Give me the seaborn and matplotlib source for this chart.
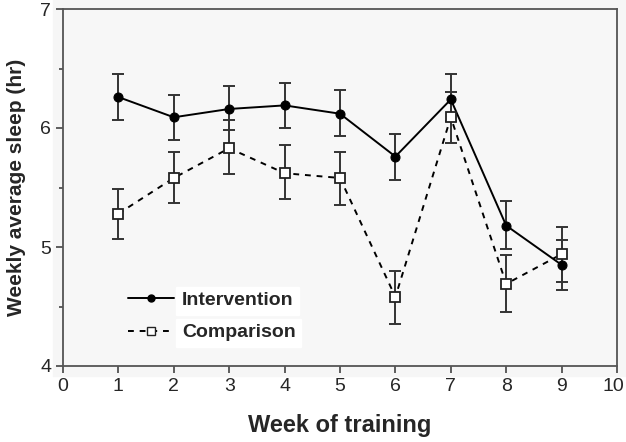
import numpy as np
import pandas as pd
import seaborn as sns
import matplotlib.pyplot as plt
import matplotlib.transforms as mtrans
from matplotlib.patches import Rectangle
from matplotlib.lines import Line2D
from matplotlib.ticker import MultipleLocator

# datos (media e intervalo por semana)
semanas = [1, 2, 3, 4, 5, 6, 7, 8, 9]
interv_media = [6.26, 6.09, 6.16, 6.19, 6.12, 5.76, 6.24, 5.18, 4.85]
interv_inf = [6.07, 5.90, 5.98, 6.00, 5.93, 5.56, 6.06, 4.98, 4.64]
interv_sup = [6.45, 6.28, 6.35, 6.38, 6.32, 5.95, 6.45, 5.39, 5.06]
comp_media = [5.28, 5.58, 5.83, 5.62, 5.58, 4.58, 6.09, 4.69, 4.94]
comp_inf = [5.07, 5.37, 5.61, 5.40, 5.35, 4.35, 5.87, 4.45, 4.71]
comp_sup = [5.49, 5.80, 6.07, 5.86, 5.80, 4.80, 6.30, 4.93, 5.17]
grupos = ['Intervention', 'Comparison']

df = pd.DataFrame({
    'semana': semanas * 2,
    'horas': interv_media + comp_media,
    'inf': interv_inf + comp_inf,
    'sup': interv_sup + comp_sup,
    'grupo': [grupos[0]] * 9 + [grupos[1]] * 9,
})

sns.set_style("ticks")
plt.rcParams['font.family'] = ['Liberation Sans', 'DejaVu Sans']

fig = plt.figure(figsize=(6.26, 4.42), dpi=100)
# fondo gris claro detras del area del grafico
fondo = Rectangle((53 / 626, 1 - 376 / 442), 1 - 53 / 626, 376 / 442,
                  transform=fig.transFigure, color='#f6f6f6', zorder=-10)
fig.patches.append(fondo)
ax = fig.add_axes([63 / 626, 1 - 366 / 442, 554 / 626, 357 / 442])
ax.set_zorder(1)
ax.set_facecolor('#f7f7f7')

# barras de error
for g in grupos:
    d = df[df['grupo'] == g]
    ax.errorbar(d['semana'], d['horas'],
                yerr=[d['horas'] - d['inf'], d['sup'] - d['horas']],
                fmt='none', ecolor='#333333', elinewidth=1.4, capsize=4.5, capthick=1.4, zorder=2)

sns.lineplot(data=df, x='semana', y='horas', hue='grupo', style='grupo',
             palette=['black', 'black'], markers={'Intervention': 'o', 'Comparison': 's'},
             dashes={'Intervention': '', 'Comparison': (3, 3)},
             linewidth=1.4, markersize=7, ax=ax, zorder=3, legend=False)

# marcadores: circulo negro relleno y cuadrado blanco
for ln in ax.get_lines():
    if ln.get_marker() == 's':
        ln.set_markerfacecolor('white')
        ln.set_markeredgecolor('#222222')
        ln.set_markeredgewidth(1.3)
    elif ln.get_marker() == 'o':
        ln.set_markerfacecolor('black')
        ln.set_markeredgecolor('black')
        ln.set_markersize(6.5)

ax.set_xlim(0, 10)
ax.set_ylim(4, 7)
ax.set_xticks(range(0, 11))
ax.set_yticks([4, 5, 6, 7])
ax.yaxis.set_minor_locator(MultipleLocator(0.5))
ax.tick_params(axis='both', which='major', labelsize=14, length=5, width=1.2, color='#444444')
ax.tick_params(axis='y', which='minor', length=3, width=1.2, color='#444444')
for s in ax.spines.values():
    s.set_visible(True)
    s.set_linewidth(1.3)
    s.set_color('#555555')

# correr un poco el "10" para que no quede cortado
ultimo = ax.get_xticklabels()[-1]
ultimo.set_transform(ultimo.get_transform() + mtrans.ScaledTranslation(-4 / 100, 0, fig.dpi_scale_trans))

ax.set_xlabel('Week of training', fontsize=17, fontweight='bold', labelpad=14)
ax.set_ylabel('Weekly average sleep (hr)', fontsize=15, fontweight='bold', labelpad=10)

# leyenda
h1 = Line2D([], [], color='black', lw=1.4, marker='o', markersize=5, mfc='black')
h2 = Line2D([], [], color='black', lw=1.4, ls=(0, (3, 3)), marker='s', markersize=6,
            mfc='white', mec='#222222')
leg = ax.legend([h1, h2], grupos, loc='lower left', bbox_to_anchor=(0.085, 0.02),
                frameon=False, handlelength=2.4, handletextpad=0.4, labelspacing=0.75,
                prop={'size': 14, 'weight': 'bold'})
for t in leg.get_texts():
    t.set_backgroundcolor('white')

fig.savefig('out.png', dpi=100)
